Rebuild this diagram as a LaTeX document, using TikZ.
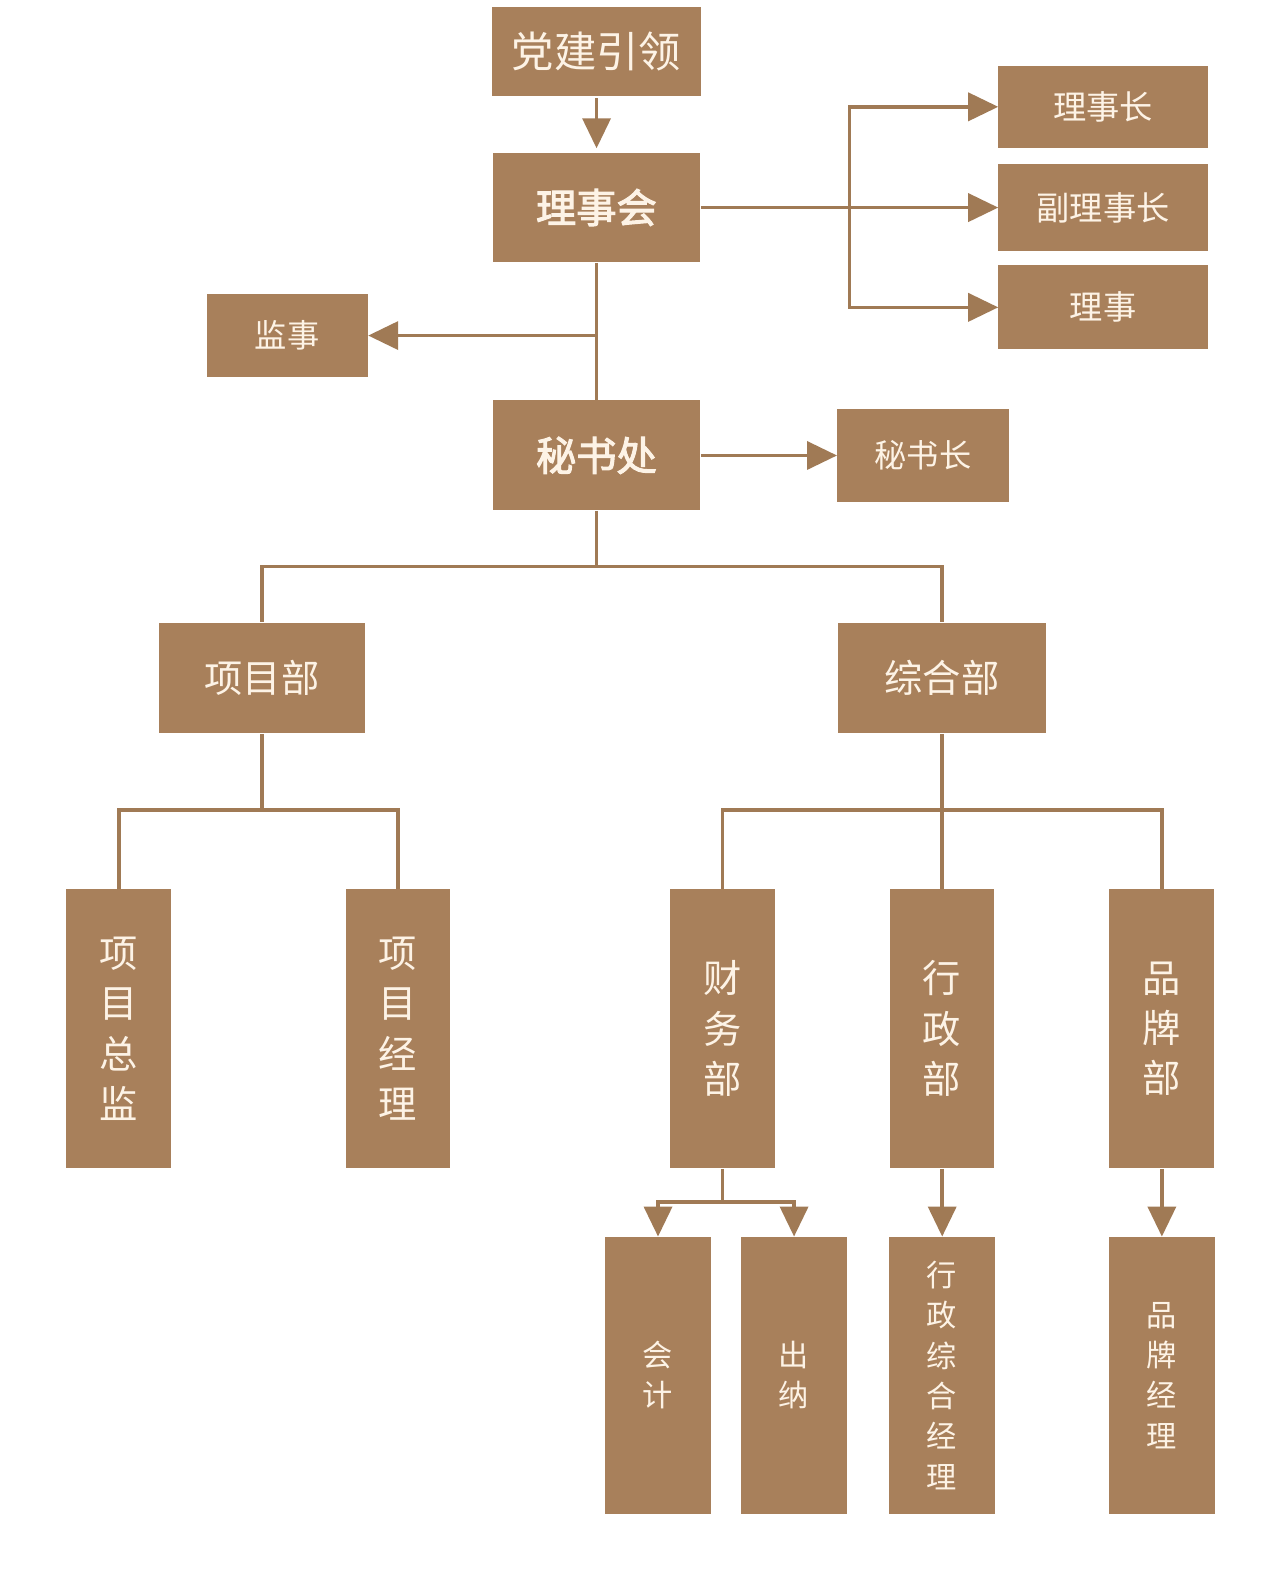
\documentclass[tikz,border=0pt]{standalone}
\usepackage{fontspec}
\newfontfamily\cjk{Noto Sans CJK SC}
\newfontfamily\cjkb[FakeBold=2.5]{Noto Sans CJK SC}
\usetikzlibrary{arrows.meta}
\definecolor{boxfill}{HTML}{A8805B}
\definecolor{linecol}{HTML}{A07A55}
\definecolor{txtcol}{HTML}{FDF3E6}
\tikzset{
  box/.style={fill=boxfill, draw=none, inner sep=0pt, text=txtcol, align=center},
  conn/.style={draw=linecol, line width=1.8pt},
  arr/.style={conn, -{Triangle[length=15pt,width=14pt]}},
  tallbox/.style={box, minimum width=52pt, minimum height=138.5pt, font=\cjk\fontsize{19}{25}\selectfont},
  lowbox/.style={box, minimum width=52.5pt, minimum height=137.5pt, font=\cjk\fontsize{15}{20}\selectfont},
}
\begin{document}
\begin{tikzpicture}[x=0.5pt,y=-0.5pt]
\useasboundingbox[fill=white] (0,0) rectangle (1280,1579);
\begin{scope}[scale=1.0075, every node/.append style={transform shape}]
% nodes
\node[box, minimum width=104pt, minimum height=44pt, font=\cjk\fontsize{21}{24}\selectfont] (dj) at (592,51) {党建引领};
\node[box, minimum width=103pt, minimum height=54.5pt, font=\cjkb\fontsize{20}{24}\selectfont] (lsh) at (592,206) {理事会};
\node[box, minimum width=104pt, minimum height=40.5pt, font=\cjk\fontsize{16.5}{20}\selectfont] (lsz) at (1095,106) {理事长};
\node[box, minimum width=104pt, minimum height=43.5pt, font=\cjk\fontsize{16.5}{20}\selectfont] (flsz) at (1095,206) {副理事长};
\node[box, minimum width=104pt, minimum height=41.5pt, font=\cjk\fontsize{16.5}{20}\selectfont] (ls) at (1095,305) {理事};
\node[box, minimum width=80pt, minimum height=41.5pt, font=\cjk\fontsize{16}{20}\selectfont] (js) at (285,333) {监事};
\node[box, minimum width=103pt, minimum height=54.5pt, font=\cjkb\fontsize{20}{24}\selectfont] (msc) at (592,452) {秘书处};
\node[box, minimum width=85pt, minimum height=46pt, font=\cjk\fontsize{16}{20}\selectfont] (msz) at (916,452) {秘书长};
\node[box, minimum width=102.5pt, minimum height=55pt, font=\cjk\fontsize{19}{24}\selectfont] (xmb) at (260,673) {项目部};
\node[box, minimum width=103pt, minimum height=55pt, font=\cjk\fontsize{19}{24}\selectfont] (zhb) at (935,673) {综合部};
\node[tallbox] (xmzj) at (118,1021) {项\\目\\总\\监};
\node[tallbox] (xmjl) at (395,1021) {项\\目\\经\\理};
\node[tallbox] (cwb) at (717,1021) {财\\务\\部};
\node[tallbox] (xzb) at (935,1021) {行\\政\\部};
\node[tallbox] (ppb) at (1153,1021) {品\\牌\\部};
\node[lowbox] (kj) at (653,1365) {会\\计};
\node[lowbox] (cn) at (788,1365) {出\\纳};
\node[lowbox] (xzzh) at (935,1365) {行\\政\\综\\合\\经\\理};
\node[lowbox] (ppjl) at (1153,1365) {品\\牌\\经\\理};
% junction coordinates
\coordinate (b1) at (843,206);
\coordinate (j1) at (592,333);
\coordinate (m1) at (592,562);
\coordinate (p1) at (260,804);
\coordinate (z1) at (935,804);
\coordinate (c1) at (717,1193);
% connectors
\draw[arr, shorten <=1pt, shorten >=2pt] (dj.south) -- (lsh.north);
\draw[arr] (lsh.east) -- (flsz.west);
\draw[arr] (b1) |- (lsz.west);
\draw[arr] (b1) |- (ls.west);
\draw[conn] (lsh.south) -- (msc.north);
\draw[arr] (j1) -- (js.east);
\draw[arr] (msc.east) -- (msz.west);
\draw[conn] (msc.south) -- (m1);
\draw[conn] (m1) -| (xmb.north);
\draw[conn] (m1) -| (zhb.north);
\draw[conn] (xmb.south) -- (p1);
\draw[conn] (p1) -| (xmzj.north);
\draw[conn] (p1) -| (xmjl.north);
\draw[conn] (zhb.south) -- (xzb.north);
\draw[conn] (z1) -| (cwb.north);
\draw[conn] (z1) -| (ppb.north);
\draw[conn] (cwb.south) -- (c1);
\draw[arr] (c1) -| (kj.north);
\draw[arr] (c1) -| (cn.north);
\draw[arr] (xzb.south) -- (xzzh.north);
\draw[arr] (ppb.south) -- (ppjl.north);
\end{scope}
\end{tikzpicture}
\end{document}
